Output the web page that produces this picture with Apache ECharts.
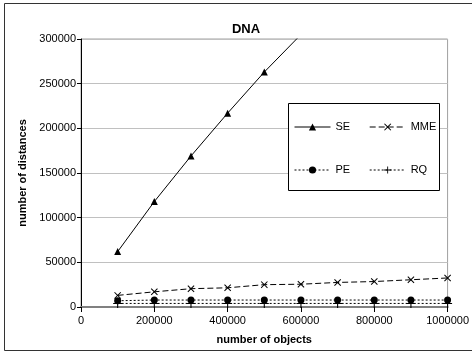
<!DOCTYPE html>
<html>
<head>
<meta charset="utf-8">
<script src="https://cdn.jsdelivr.net/npm/echarts@6/dist/echarts.min.js"></script>
<style>html,body{margin:0;padding:0;background:#fff}#c{width:472px;height:354px}</style>
</head>
<body>
<div id="c"></div>
<script>
var objects = [100000, 200000, 300000, 400000, 500000, 600000, 700000, 800000, 900000, 1000000];
var seValues = [62000, 118000, 169000, 217000, 263000, 305000];
var mmeValues = [13000, 17000, 20500, 21500, 25000, 25500, 27500, 28500, 30500, 32500];
var peValues = [7000, 7800, 7800, 7800, 7800, 7800, 7800, 7800, 7800, 7800];
var rqValues = [4000, 4000, 4000, 4000, 4000, 4000, 4000, 4000, 4000, 4000];
var yTicks = [0, 50000, 100000, 150000, 200000, 250000, 300000];
var xTicks = [0, 200000, 400000, 600000, 800000, 1000000];

function pairs(vals) { return vals.map(function (v, i) { return [objects[i], v]; }); }

var xShape = 'path://M0,1L1,0L5,4L9,0L10,1L6,5L10,9L9,10L5,6L1,10L0,9L4,5Z';
var plusShape = 'path://M4.4,0H5.6V4.4H10V5.6H5.6V10H4.4V5.6H0V4.4H4.4Z';

var font = 'Arial, "Liberation Sans", sans-serif';
var legendCommon = {
  left: 294, itemWidth: 36, itemHeight: 9, itemGap: 19, padding: 0, z: 10,
  lineStyle: {width: 1},
  textStyle: {fontSize: 11, color: '#000', fontFamily: font}
};
var chart = echarts.init(document.getElementById('c'), null, {renderer: 'canvas'});
chart.setOption({
  animation: false,
  backgroundColor: '#fff',
  textStyle: {fontFamily: font},
  title: {
    text: 'DNA', left: 241, top: 18, textAlign: 'center',
    textStyle: {fontSize: 13, fontWeight: 'bold', color: '#000', fontFamily: font}
  },
  graphic: [
    {type: 'rect', shape: {x: 4.5, y: 3.5, width: 470, height: 347}, style: {fill: 'none', stroke: '#333', lineWidth: 1}, z: 0},
    {type: 'rect', shape: {x: 288.5, y: 103.5, width: 151, height: 87}, style: {fill: '#fff', stroke: '#000', lineWidth: 1}, z: 5}
  ],
  grid: {left: 81, right: 19, top: 39, bottom: 47, show: true, borderColor: '#a0a0a0', borderWidth: 1},
  legend: [
    Object.assign({}, legendCommon, {data: ['SE', 'MME'], top: 121.5}),
    Object.assign({}, legendCommon, {data: ['PE', 'RQ'], top: 164.5})
  ],
  xAxis: {
    type: 'value', min: 0, max: 1000000, interval: 200000,
    name: 'number of objects', nameLocation: 'middle', nameGap: 27,
    nameTextStyle: {fontSize: 11, fontWeight: 'bold', color: '#000', fontFamily: font},
    axisLine: {show: true, onZero: false, lineStyle: {color: '#808080', width: 2}},
    axisTick: {show: true, length: 5, lineStyle: {color: '#000'}},
    axisLabel: {fontSize: 11, color: '#000', margin: 8, fontFamily: font,
      formatter: function (v) { return xTicks.indexOf(v) >= 0 ? String(v) : ''; }},
    splitLine: {show: false}
  },
  yAxis: {
    type: 'value', min: 0, max: 300000, interval: 50000,
    name: 'number of distances', nameLocation: 'middle', nameGap: 48,
    nameTextStyle: {fontSize: 11, fontWeight: 'bold', color: '#000', fontFamily: font},
    axisLine: {show: true, lineStyle: {color: '#000', width: 1}},
    axisTick: {show: true, length: 4, lineStyle: {color: '#000'}},
    axisLabel: {fontSize: 11, color: '#000', margin: 5, fontFamily: font,
      formatter: function (v) { return yTicks.indexOf(v) >= 0 ? String(v) : ''; }},
    splitLine: {show: true, lineStyle: {color: '#c0c0c0', width: 1}}
  },
  series: [
    {name: 'SE', type: 'line', data: pairs(seValues), clip: true, symbol: 'triangle', symbolSize: 7,
     lineStyle: {color: '#000', width: 1}, itemStyle: {color: '#000'}},
    {name: 'MME', type: 'line', data: pairs(mmeValues), symbol: xShape, symbolSize: 7,
     lineStyle: {color: '#000', width: 1, type: [6, 3]}, itemStyle: {color: '#000'}},
    {name: 'PE', type: 'line', data: pairs(peValues), symbol: 'circle', symbolSize: 7,
     lineStyle: {color: '#000', width: 1, type: [2, 2]}, itemStyle: {color: '#000'}},
    {name: 'RQ', type: 'line', data: pairs(rqValues), symbol: plusShape, symbolSize: 9,
     lineStyle: {color: '#000', width: 1, type: [2, 2]}, itemStyle: {color: '#000'}}
  ]
});
</script>
</body>
</html>
